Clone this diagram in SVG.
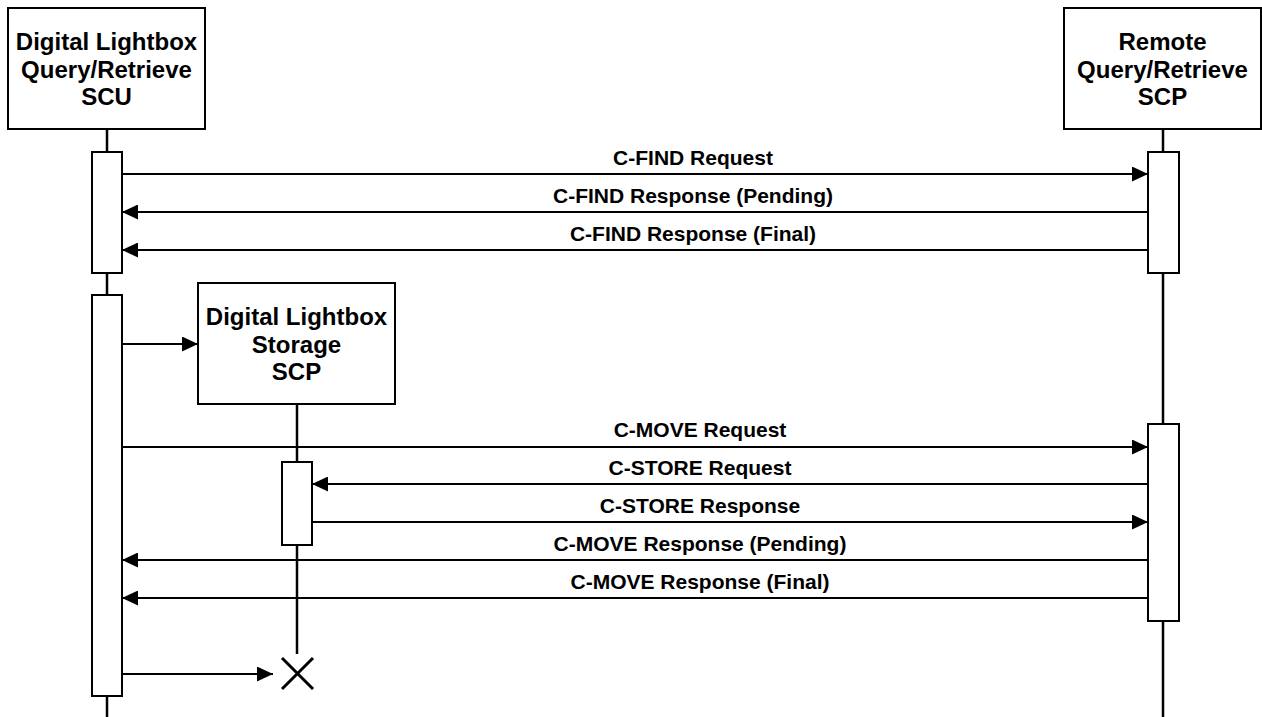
<svg xmlns="http://www.w3.org/2000/svg" width="1262" height="717" viewBox="0 0 1262 717">
<style>
.box{fill:#fff;stroke:#000;stroke-width:2}
.act{fill:#fff;stroke:#000;stroke-width:2}
.life{stroke:#000;stroke-width:2.5;fill:none}
.msg{stroke:#000;stroke-width:2;fill:none}
.nt{font-family:"Liberation Sans",Arial,sans-serif;font-weight:bold;font-size:24px;text-anchor:middle;fill:#000}
.ml{font-family:"Liberation Sans",Arial,sans-serif;font-weight:bold;font-size:21px;text-anchor:middle;fill:#000}
</style>
<defs>
<marker id="ah" markerWidth="16" markerHeight="15" refX="16" refY="7.5" orient="auto" markerUnits="userSpaceOnUse">
<path d="M0,0 L16,7.5 L0,15 Z" fill="#000"/>
</marker>
</defs>
<g id="lifelines">
<path class="life" d="M107,129 V152 M107,273 V295 M107,696 V717"/>
<path class="life" d="M1163,129 V152 M1163,273 V424 M1163,621 V717"/>
<path class="life" d="M297,404 V462 M297,545 V654"/>
</g>
<g id="node-scu">
<rect class="box" x="8" y="8" width="197" height="121"/>
<text class="nt" x="106.5" y="50">Digital Lightbox</text>
<text class="nt" x="106.5" y="77.5">Query/Retrieve</text>
<text class="nt" x="106.5" y="105">SCU</text>
</g>
<g id="node-remote">
<rect class="box" x="1064" y="8" width="197" height="121"/>
<text class="nt" x="1162.5" y="50">Remote</text>
<text class="nt" x="1162.5" y="77.5">Query/Retrieve</text>
<text class="nt" x="1162.5" y="105">SCP</text>
</g>
<g id="node-storage">
<rect class="box" x="198" y="283" width="197" height="121"/>
<text class="nt" x="296.5" y="325">Digital Lightbox</text>
<text class="nt" x="296.5" y="352.5">Storage</text>
<text class="nt" x="296.5" y="380">SCP</text>
</g>
<g id="activations">
<rect class="act" x="92" y="152" width="30" height="121"/>
<rect class="act" x="1148" y="152" width="31" height="121"/>
<rect class="act" x="92" y="295" width="30" height="401"/>
<rect class="act" x="282" y="462" width="30" height="83"/>
<rect class="act" x="1148" y="424" width="31" height="197"/>
</g>
<g id="connectors">
<line class="msg" x1="122" y1="174" x2="1148" y2="174" marker-end="url(#ah)"/>
<line class="msg" x1="1148" y1="212" x2="122" y2="212" marker-end="url(#ah)"/>
<line class="msg" x1="1148" y1="250" x2="122" y2="250" marker-end="url(#ah)"/>
<line class="msg" x1="122" y1="344" x2="198" y2="344" marker-end="url(#ah)"/>
<line class="msg" x1="122" y1="447" x2="1148" y2="447" marker-end="url(#ah)"/>
<line class="msg" x1="1148" y1="484" x2="312" y2="484" marker-end="url(#ah)"/>
<line class="msg" x1="312" y1="522" x2="1148" y2="522" marker-end="url(#ah)"/>
<line class="msg" x1="1148" y1="560" x2="122" y2="560" marker-end="url(#ah)"/>
<line class="msg" x1="1148" y1="598" x2="122" y2="598" marker-end="url(#ah)"/>
<line class="msg" x1="122" y1="674" x2="273" y2="674" marker-end="url(#ah)"/>
<text class="ml" x="693" y="165">C-FIND Request</text>
<text class="ml" x="693" y="203">C-FIND Response (Pending)</text>
<text class="ml" x="693" y="241">C-FIND Response (Final)</text>
<text class="ml" x="700" y="437">C-MOVE Request</text>
<text class="ml" x="700" y="475">C-STORE Request</text>
<text class="ml" x="700" y="513">C-STORE Response</text>
<text class="ml" x="700" y="551">C-MOVE Response (Pending)</text>
<text class="ml" x="700" y="589">C-MOVE Response (Final)</text>
</g>
<g id="destroy">
<path d="M282,658 L313,689 M313,658 L282,689" stroke="#000" stroke-width="3" fill="none"/>
</g>
</svg>
